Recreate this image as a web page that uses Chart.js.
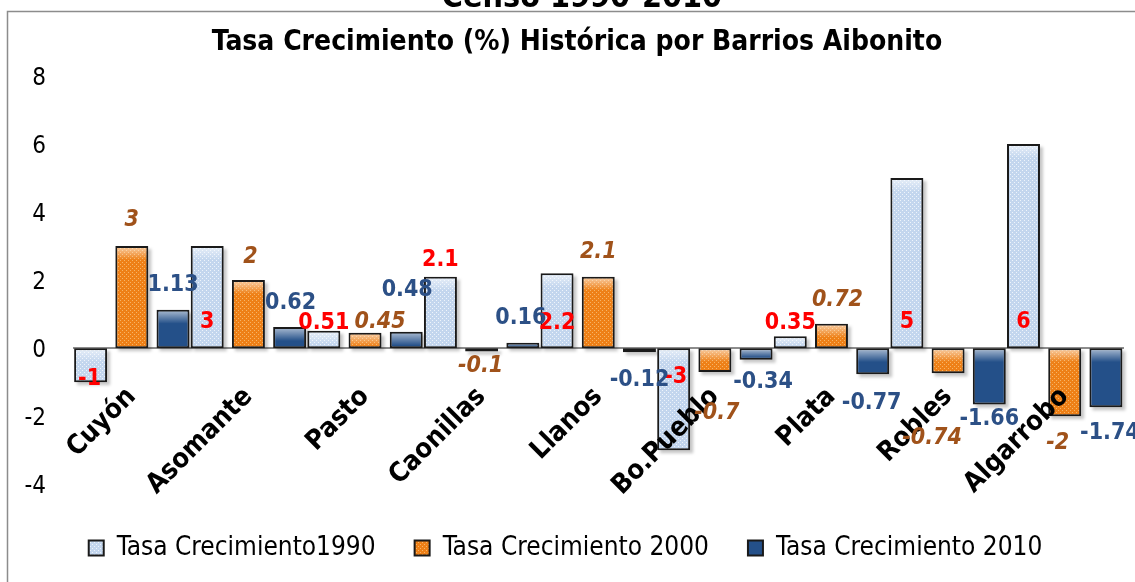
<!DOCTYPE html>
<html>
<head>
<meta charset="utf-8">
<script src="https://cdn.jsdelivr.net/npm/chart.js@4.4.1/dist/chart.umd.min.js"></script>
<style>
  html, body { margin: 0; padding: 0; background: #fff; }
</style>
</head>
<body>
<canvas id="grafico" width="1135" height="582"></canvas>
<script>
// Datos del gráfico
const barrios = ['Cuyón', 'Asomante', 'Pasto', 'Caonillas', 'Llanos', 'Bo.Pueblo', 'Plata', 'Robles', 'Algarrobo'];
const tasa1990 = [-1, 3, 0.51, 2.1, 2.2, -3, 0.35, 5, 6];
const tasa2000 = [3, 2, 0.45, -0.1, 2.1, -0.7, 0.72, -0.74, -2];
const tasa2010 = [1.13, 0.62, 0.48, 0.16, -0.12, -0.34, -0.77, -1.66, -1.74];
const ticksY = [-4, -2, 0, 2, 4, 6, 8];

// Ajustes [dx, dy] en px de cada etiqueta, movidas a mano como en el original
const ajuste1990 = [[-1, 31], [0, -26], [0, -25], [0, -88], [0, -25], [2, 29], [0, -25], [0, -26], [0, -26]];
const ajuste2000 = [[0, -26], [2, -23], [15, -11], [-1, 14], [0, -25], [2, 41], [6, -24], [-16, 65], [-7, 27]];
const ajuste2010 = [[0, -25], [1, -24], [1, -42], [-2, -25], [0, 28], [7, 22], [-1, 29], [0, 14], [4, 26]];

const FAM = "'DejaVu Sans Condensed', 'DejaVu Sans', sans-serif";

function trama(fondo, punto) {
    const c = document.createElement('canvas');
    c.width = 4; c.height = 4;
    const g = c.getContext('2d');
    g.fillStyle = fondo; g.fillRect(0, 0, 4, 4);
    g.fillStyle = punto; g.fillRect(0, 0, 1, 1); g.fillRect(2, 2, 1, 1);
    return g.createPattern(c, 'repeat');
}

const estilosEtiqueta = [
    { ajuste: ajuste1990, desdeBase: true, color: '#ff0000', fuente: 'bold 23px ' + FAM },
    { ajuste: ajuste2000, desdeBase: false, color: '#a0521a', fuente: 'italic bold 23px ' + FAM },
    { ajuste: ajuste2010, desdeBase: false, color: '#2c5086', fuente: 'bold 23px ' + FAM }
];

// sombra y brillo de las barras
const sombra = {
    id: 'sombra',
    beforeDatasetsDraw(chart) {
        const c = chart.ctx;
        c.save();
        c.fillStyle = 'rgba(0,0,0,0.22)';
        c.filter = 'blur(1.5px)';
        chart.data.datasets.forEach((d, i) => {
            chart.getDatasetMeta(i).data.forEach(b => {
                const top = Math.min(b.y, b.base);
                c.fillRect(b.x - b.width / 2 + 3, top + 3, b.width, Math.abs(b.y - b.base));
            });
        });
        c.restore();
    },
    afterDatasetsDraw(chart) {
        const c = chart.ctx;
        c.save();
        chart.data.datasets.forEach((d, i) => {
            chart.getDatasetMeta(i).data.forEach(b => {
                const top = Math.min(b.y, b.base) + 2;
                const h = Math.min(12, Math.abs(b.y - b.base) - 4);
                if (h <= 0) return;
                const g = c.createLinearGradient(0, top, 0, top + h);
                g.addColorStop(0, 'rgba(255,255,255,0.55)');
                g.addColorStop(1, 'rgba(255,255,255,0)');
                c.fillStyle = g;
                c.fillRect(b.x - b.width / 2 + 2, top, b.width - 4, h);
            });
        });
        c.restore();
    }
};

const etiquetas = {
    id: 'etiquetas',
    afterDraw(chart) {
        const c = chart.ctx;
        const cero = chart.scales.y.getPixelForValue(0);
        estilosEtiqueta.forEach((e, i) => {
            c.save();
            c.font = e.fuente;
            c.fillStyle = e.color;
            c.textAlign = 'center';
            c.textBaseline = 'middle';
            chart.getDatasetMeta(i).data.forEach((b, j) => {
                const [dx, dy] = e.ajuste[j];
                const y0 = e.desdeBase ? cero : b.y;
                c.fillText(String(chart.data.datasets[i].data[j]), b.x + dx, y0 + dy);
            });
            c.restore();
        });
        // marco, título cortado de arriba y título del gráfico
        c.save();
        c.strokeStyle = '#8c8c8c';
        c.lineWidth = 1.5;
        c.strokeRect(7.5, 11.5, 2000, 2000);
        c.fillStyle = '#000';
        c.textAlign = 'center';
        c.textBaseline = 'alphabetic';
        c.font = 'bold 32px ' + FAM;
        c.fillText('Censo 1990-2010', 582, 7);
        c.textBaseline = 'middle';
        c.font = 'bold 28px ' + FAM;
        c.fillText('Tasa Crecimiento (%) Histórica por Barrios Aibonito', 577, 43);
        c.restore();
    }
};

new Chart(document.getElementById('grafico'), {
    type: 'bar',
    data: {
        labels: barrios,
        datasets: [
            { label: 'Tasa Crecimiento1990', data: tasa1990, backgroundColor: trama('#c3d6ee', '#eef4fb') },
            { label: 'Tasa Crecimiento 2000', data: tasa2000, backgroundColor: trama('#ee8017', '#f7b567') },
            { label: 'Tasa Crecimiento 2010', data: tasa2010, backgroundColor: '#245089' }
        ]
    },
    options: {
        responsive: false,
        animation: false,
        datasets: {
            bar: { categoryPercentage: 1.06, barPercentage: 0.8, borderColor: '#1a1a1a', borderWidth: 2, borderSkipped: false }
        },
        layout: { padding: { left: 8, right: 12, top: 76, bottom: 11 } },
        plugins: {
            tooltip: { enabled: false },
            title: { display: false },
            legend: {
                position: 'bottom',
                labels: {
                    color: '#000',
                    font: { family: FAM, size: 26 },
                    boxWidth: 15,
                    boxHeight: 15,
                    padding: 39
                }
            }
        },
        scales: {
            x: {
                position: { y: 0 },
                grid: { display: false },
                border: { color: '#8c8c8c', width: 2 },
                ticks: {
                    z: 1,
                    color: '#000',
                    font: { family: FAM, size: 27, weight: 'bold' },
                    minRotation: 45,
                    maxRotation: 45,
                    autoSkip: false,
                    padding: 25
                }
            },
            y: {
                min: -4.347,
                max: 8,
                grid: { display: false },
                border: { display: false },
                afterBuildTicks: s => { s.ticks = ticksY.map(v => ({ value: v })); },
                afterFit: s => { s.width = 65.5; },
                ticks: {
                    color: '#000',
                    font: { family: FAM, size: 24 },
                    padding: 19.5,
                    labelOffset: 3
                }
            }
        }
    },
    plugins: [sombra, etiquetas]
});
</script>
</body>
</html>
